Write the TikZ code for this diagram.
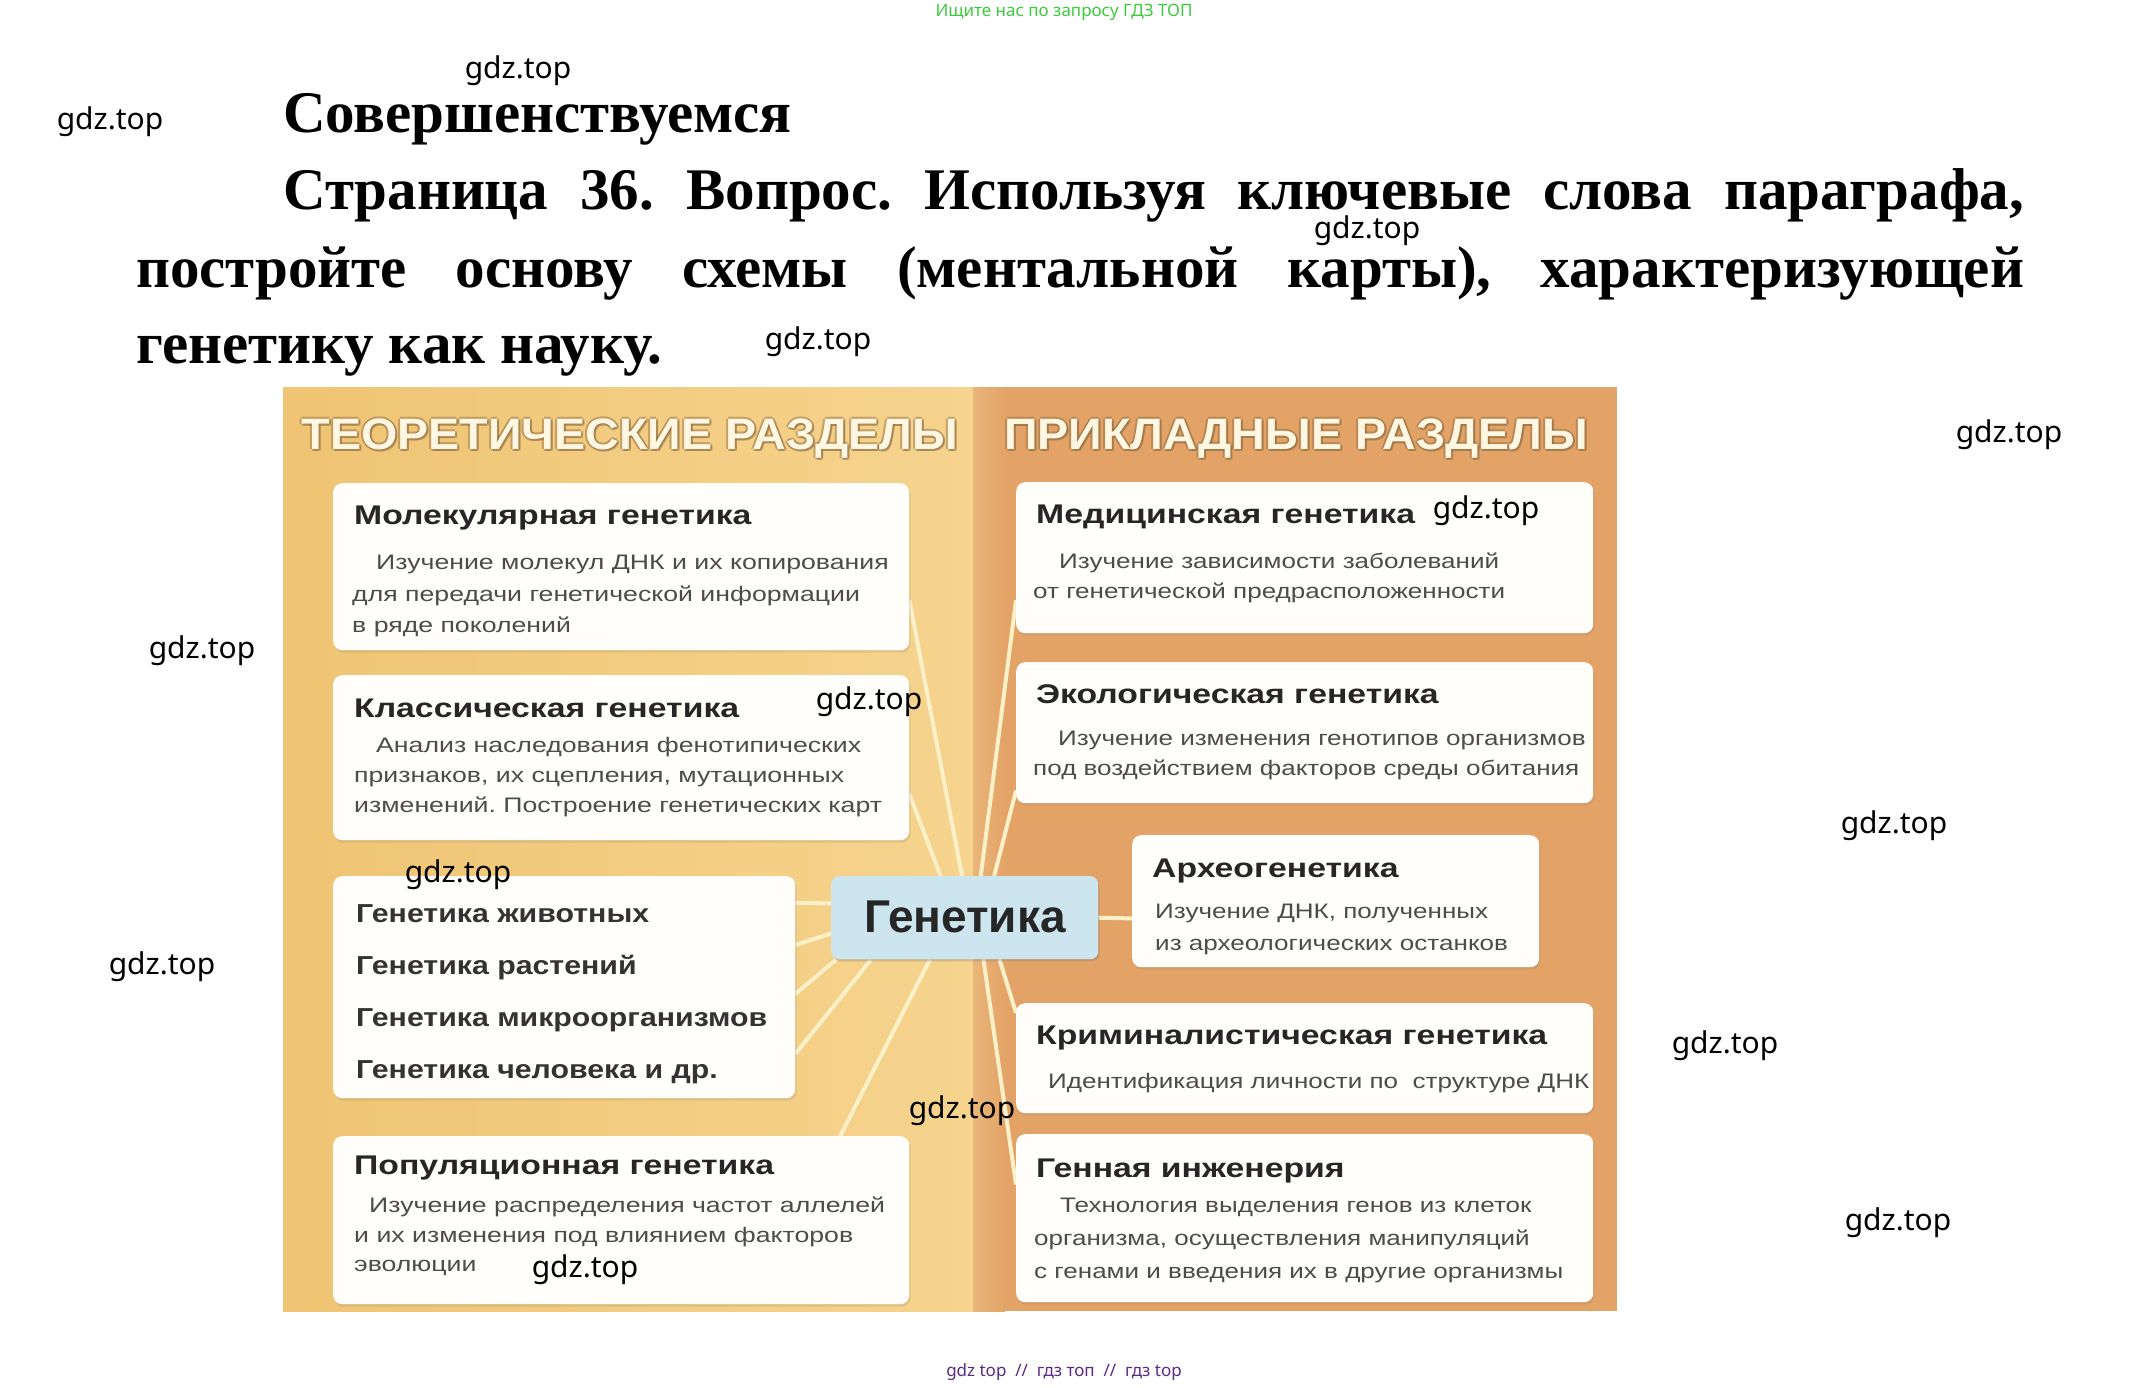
\documentclass[tikz,border=0pt]{standalone}
\usepackage{fontspec}
\setmainfont{Liberation Serif}
\newfontfamily\sansf{Liberation Sans}
\newfontfamily\boxttlf[FakeStretch=1.25]{Liberation Sans}
\newfontfamily\boxdscf[FakeStretch=1.24]{Liberation Sans}
\newfontfamily\boxdsclf[FakeStretch=1.27]{Liberation Sans}
\newfontfamily\boxlstf[FakeStretch=1.165]{Liberation Sans}
\newfontfamily\hdrf[FakeStretch=1.06]{Liberation Sans}
\newfontfamily\wmf{Noto Sans}
\usetikzlibrary{calc,shadows}
\frenchspacing
\definecolor{ylw}{HTML}{EFC473}
\definecolor{ylwl}{HTML}{F6D48E}
\definecolor{org}{HTML}{E3A366}
\definecolor{orgl}{HTML}{EAB67A}
\definecolor{boxc}{HTML}{FFFEFA}
\definecolor{gbox}{HTML}{CDE5EF}
\definecolor{connc}{HTML}{FCF0C8}
\definecolor{ttlc}{HTML}{262626}
\definecolor{descc}{HTML}{4C4C4C}
\definecolor{lstc}{HTML}{333333}
\definecolor{hdrc}{HTML}{FFF7E2}
\definecolor{hdrsh}{HTML}{8E6A40}
\definecolor{grn}{HTML}{3CCB3C}
\definecolor{prp}{HTML}{5A2A86}
\newcommand\bxTitle{\boxttlf\bfseries\fontsize{27}{32}\selectfont\color{ttlc}}
\newcommand\bxDesc{\boxdscf\fontsize{21}{30}\selectfont\color{descc}}
\newcommand\bxDescL{\boxdsclf\fontsize{21}{30}\selectfont\color{descc}}
\newcommand\bxList{\boxlstf\bfseries\fontsize{26}{30}\selectfont\color{lstc}}
\newcommand\hdFont{\bfseries\fontsize{59}{70}\selectfont}
\pgfdeclarelayer{back}
\pgfdeclarelayer{mid}
\pgfsetlayers{back,mid,main}
\tikzset{
  wbox/.style={fill=boxc, rounded corners=9pt, anchor=north west, inner sep=0pt,
    drop shadow={opacity=0.18, shadow xshift=1.5pt, shadow yshift=-2.5pt}},
  conn/.style={draw=connc, line width=4pt},
  txt/.style={anchor=base west, inner sep=0pt},
  wm/.style={inner sep=0pt, font=\wmf\fontsize{30}{36}\selectfont, text=black},
  hdr/.style={anchor=base, inner sep=0pt, font=\hdrf\bfseries\fontsize{44}{48}\selectfont},
}
\begin{document}
\begin{tikzpicture}[x=1pt,y=-1pt]
\useasboundingbox (0,0) rectangle (2130,1387);
\begin{pgfonlayer}{back}
\fill[white] (0,0) rectangle (2130,1387);
\shade[left color=ylw, right color=ylwl] (283,387) rectangle (973,1311);
\fill[org] (973,387) rectangle (1617,1311);
\shade[left color=orgl, right color=org] (973,387) rectangle (1005,1311);
\end{pgfonlayer}

% top texts
\node[inner sep=0pt, font=\wmf\fontsize{17}{20}\selectfont, text=grn] (topnote) at (1064,12) {Ищите нас по запросу ГДЗ ТОП};
\node[txt] (h1) at (283,132) {\hdFont Совершенствуемся};
\node[txt] (h2) at (283,209) {\hdFont\makebox[1741pt][s]{Страница 36. Вопрос. Используя ключевые слова параграфа,}};
\node[txt] (h3) at (136,287) {\hdFont\makebox[1888pt][s]{постройте основу схемы (ментальной карты), характеризующей}};
\node[txt] (h4) at (136,363) {\hdFont генетику как науку.};

% headers
\foreach \i/\dx/\dy in {1/-2/0,2/2/0,3/0/-2,4/0/2,5/2/2}{
  \node[hdr, text=hdrsh, opacity=0.45] (hla\i) at ($(630,449)+(\dx,\dy)$) {ТЕОРЕТИЧЕСКИЕ РАЗДЕЛЫ};
  \node[hdr, text=hdrsh, opacity=0.45] (hra\i) at ($(1296,449)+(\dx,\dy)$) {ПРИКЛАДНЫЕ РАЗДЕЛЫ};
}
\node[hdr, text=hdrc] (hl) at (630,449) {ТЕОРЕТИЧЕСКИЕ РАЗДЕЛЫ};
\node[hdr, text=hdrc] (hr) at (1296,449) {ПРИКЛАДНЫЕ РАЗДЕЛЫ};

% boxes
\node[wbox, minimum width=576pt, minimum height=167pt] (B1) at (333,483) {};
\node[wbox, minimum width=576pt, minimum height=165pt] (B2) at (333,675) {};
\node[wbox, minimum width=462pt, minimum height=222pt] (B3) at (333,876) {};
\node[wbox, minimum width=576pt, minimum height=168pt] (B4) at (333,1136) {};
\node[wbox, minimum width=577pt, minimum height=151pt] (B5) at (1016,482) {};
\node[wbox, minimum width=577pt, minimum height=141pt] (B6) at (1016,662) {};
\node[wbox, minimum width=407pt, minimum height=132pt] (B7) at (1132,835) {};
\node[wbox, minimum width=577pt, minimum height=110pt] (B8) at (1016,1003) {};
\node[wbox, minimum width=577pt, minimum height=168pt] (B9) at (1016,1134) {};
\node[wbox, fill=gbox, minimum width=267pt, minimum height=83pt, rounded corners=8pt,
  drop shadow={opacity=0.15, shadow xshift=1.5pt, shadow yshift=-2pt}] (G) at (831,876) {};
\node[anchor=base, inner sep=0pt, font=\sansf\bfseries\fontsize{46}{50}\selectfont, text=ttlc] (Gt) at (965,932) {Генетика};

% connectors
\begin{pgfonlayer}{mid}
\draw[conn] ($(G.north west)!0.49!(G.north east)$) -- ($(B1.north east)!0.70!(B1.south east)$);
\draw[conn] ($(G.north west)!0.41!(G.north east)$) -- ($(B2.north east)!0.72!(B2.south east)$);
\draw[conn] ($(G.north west)!0.56!(G.north east)$) -- ($(B5.north west)!0.78!(B5.south west)$);
\draw[conn] ($(G.north west)!0.61!(G.north east)$) -- ($(B6.north west)!0.91!(B6.south west)$);
\draw[conn] ($(G.north west)!0.33!(G.south west)$) -- ($(B3.north east)!0.12!(B3.south east)$);
\draw[conn] ($(G.north west)!0.69!(G.south west)$) -- ($(B3.north east)!0.31!(B3.south east)$);
\draw[conn] ($(G.south west)!0.02!(G.south east)$) -- ($(B3.north east)!0.53!(B3.south east)$);
\draw[conn] ($(G.south west)!0.15!(G.south east)$) -- ($(B3.north east)!0.80!(B3.south east)$);
\draw[conn] ($(G.south west)!0.37!(G.south east)$) -- ($(B4.north west)!0.88!(B4.north east)$);
\draw[conn] ($(G.south west)!0.57!(G.south east)$) -- ($(B9.north west)!0.30!(B9.south west)$);
\draw[conn] ($(G.south west)!0.63!(G.south east)$) -- ($(B8.north west)!0.09!(B8.south west)$);
\draw[conn] ($(G.north east)!0.5!(G.south east)$) -- ($(B7.north west)!0.63!(B7.south west)$);
\end{pgfonlayer}

% box texts left
\node[txt] (b1t) at (354,524) {\bxTitle Молекулярная генетика};
\node[txt] (b1a) at (376,569) {\bxDescL Изучение молекул ДНК и их копирования};
\node[txt] (b1b) at (352,601) {\bxDescL для передачи генетической информации};
\node[txt] (b1c) at (352,632) {\bxDescL в ряде поколений};

\node[txt] (b2t) at (354,717) {\bxTitle Классическая генетика};
\node[txt] (b2a) at (376,752) {\bxDescL Анализ наследования фенотипических};
\node[txt] (b2b) at (354,782) {\bxDescL признаков, их сцепления, мутационных};
\node[txt] (b2c) at (354,812) {\bxDescL изменений. Построение генетических карт};

\node[txt] (b3a) at (356,922) {\bxList Генетика животных};
\node[txt] (b3b) at (356,974) {\bxList Генетика растений};
\node[txt] (b3c) at (356,1026) {\bxList Генетика микроорганизмов};
\node[txt] (b3d) at (356,1078) {\bxList Генетика человека и др.};

\node[txt] (b4t) at (354,1174) {\bxTitle Популяционная генетика};
\node[txt] (b4a) at (369,1212) {\bxDescL Изучение распределения частот аллелей};
\node[txt] (b4b) at (354,1242) {\bxDescL и их изменения под влиянием факторов};
\node[txt] (b4c) at (354,1271) {\bxDescL эволюции};

% box texts right
\node[txt] (b5t) at (1036,523) {\bxTitle Медицинская генетика};
\node[txt] (b5a) at (1059,568) {\bxDesc Изучение зависимости заболеваний};
\node[txt] (b5b) at (1033,598) {\bxDesc от генетической предрасположенности};

\node[txt] (b6t) at (1036,703) {\bxTitle Экологическая генетика};
\node[txt] (b6a) at (1058,745) {\bxDesc Изучение изменения генотипов организмов};
\node[txt] (b6b) at (1033,775) {\bxDesc под воздействием факторов среды обитания};

\node[txt] (b7t) at (1152,877) {\bxTitle Археогенетика};
\node[txt] (b7a) at (1155,918) {\bxDesc Изучение ДНК, полученных};
\node[txt] (b7b) at (1155,950) {\bxDesc из археологических останков};

\node[txt] (b8t) at (1036,1044) {\bxTitle Криминалистическая генетика};
\node[txt] (b8a) at (1048,1088) {\bxDesc Идентификация личности по~ структуре ДНК};

\node[txt] (b9t) at (1036,1177) {\bxTitle Генная инженерия};
\node[txt] (b9a) at (1060,1212) {\bxDesc Технология выделения генов из клеток};
\node[txt] (b9b) at (1034,1245) {\bxDesc организма, осуществления манипуляций};
\node[txt] (b9c) at (1034,1278) {\bxDesc с генами и введения их в другие организмы};

% watermarks
\node[wm] (w1) at (518,71) {gdz.top};
\node[wm] (w2) at (110,122) {gdz.top};
\node[wm] (w3) at (1367,231) {gdz.top};
\node[wm] (w4) at (818,342) {gdz.top};
\node[wm] (w5) at (2009,435) {gdz.top};
\node[wm] (w6) at (202,651) {gdz.top};
\node[wm] (w7) at (869,702) {gdz.top};
\node[wm] (w8) at (1486,511) {gdz.top};
\node[wm] (w9) at (458,875) {gdz.top};
\node[wm] (w10) at (162,967) {gdz.top};
\node[wm] (w11) at (1894,826) {gdz.top};
\node[wm] (w12) at (962,1111) {gdz.top};
\node[wm] (w13) at (1725,1046) {gdz.top};
\node[wm] (w14) at (585,1270) {gdz.top};
\node[wm] (w15) at (1898,1223) {gdz.top};

\node[inner sep=0pt, font=\wmf\fontsize{17}{20}\selectfont, text=prp] (botnote) at (1064,1372) {gdz top\ \ //\ \ гдз топ\ \ //\ \ гдз top};
\end{tikzpicture}
\end{document}
